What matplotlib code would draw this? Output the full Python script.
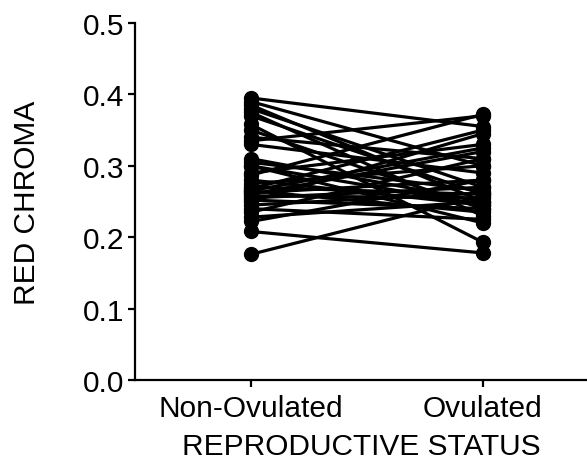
import matplotlib
matplotlib.use("Agg")
import matplotlib.pyplot as plt

plt.rcParams['font.family'] = ['Liberation Sans', 'DejaVu Sans']

groups = ["Non-Ovulated", "Ovulated"]

# red chroma per female, before and after ovulation
non_ovulated = [0.395, 0.390, 0.385, 0.380, 0.375, 0.370, 0.358, 0.350, 0.340,
                0.335, 0.330, 0.310, 0.305, 0.300, 0.290, 0.287, 0.280, 0.275,
                0.270, 0.268, 0.265, 0.262, 0.260, 0.258, 0.255, 0.252, 0.250,
                0.245, 0.240, 0.235, 0.228, 0.222, 0.208, 0.176, 0.265, 0.300]
ovulated = [0.355, 0.300, 0.250, 0.270, 0.230, 0.260, 0.193, 0.240, 0.310,
            0.370, 0.290, 0.250, 0.265, 0.220, 0.330, 0.372, 0.245, 0.300,
            0.260, 0.350, 0.235, 0.280, 0.320, 0.255, 0.270, 0.240, 0.345,
            0.262, 0.225, 0.310, 0.250, 0.280, 0.178, 0.258, 0.325, 0.245]

fig = plt.figure(figsize=(5.87, 4.60), dpi=100)
ax = fig.add_axes([135 / 587, 79 / 460, 452 / 587, 357 / 460])

for a, b in zip(non_ovulated, ovulated):
    ax.plot([0, 1], [a, b], color='black', lw=2.3, marker='o', ms=10,
            clip_on=False)

ax.set_xlim(-0.5, 1.45)
ax.set_ylim(0, 0.5)
ax.set_xticks([0, 1])
ax.set_xticklabels(groups)
ax.set_yticks([0, 0.1, 0.2, 0.3, 0.4, 0.5])
ax.set_yticklabels(["0.0", "0.1", "0.2", "0.3", "0.4", "0.5"])

for s in ['top', 'right']:
    ax.spines[s].set_visible(False)
for s in ['left', 'bottom']:
    ax.spines[s].set_linewidth(1.6)
ax.tick_params(axis='both', direction='out', length=5, width=1.6,
               labelsize=21.5, pad=3)
ax.tick_params(axis='x', pad=5)

ax.set_ylabel("RED CHROMA", fontsize=21.5, labelpad=30)
ax.set_xlabel("REPRODUCTIVE STATUS", fontsize=21.5, labelpad=7)

fig.savefig("out.png", dpi=100)
